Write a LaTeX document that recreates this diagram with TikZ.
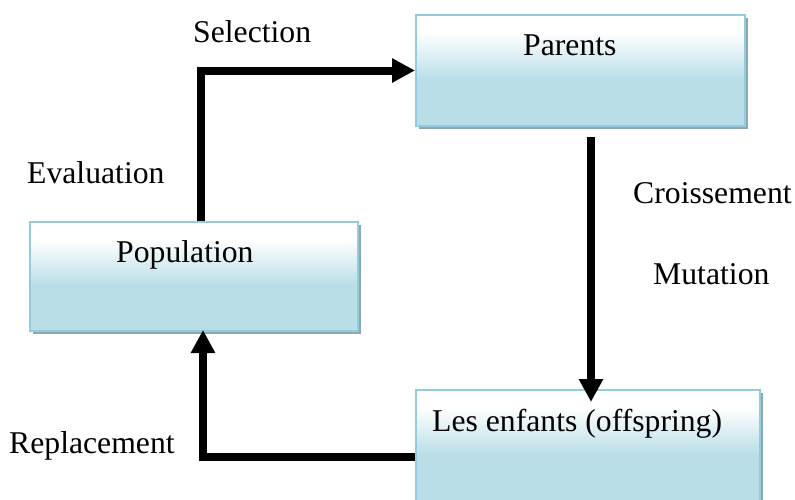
\documentclass[tikz,border=0pt]{standalone}
\usepackage{fontspec}
\setmainfont{Liberation Serif}
\usetikzlibrary{arrows.meta,calc,shadows}
\definecolor{boxblue}{HTML}{B9DEE8}
\definecolor{boxedge}{HTML}{93CDDD}
\definecolor{shadowgray}{HTML}{8EA9AD}
\pgfdeclareverticalshading{boxshade}{100bp}{color(0bp)=(boxblue); color(25bp)=(boxblue); color(46bp)=(boxblue); color(67bp)=(white); color(100bp)=(white)}
\tikzset{
  box/.style={rectangle, draw=boxedge, line width=2pt, shading=boxshade, inner sep=0pt,
    drop shadow={shadow xshift=3pt, shadow yshift=-3pt, fill=shadowgray, opacity=1}},
  txt/.style={font=\fontsize{31.7}{38}\selectfont, inner sep=0pt, anchor=base west},
  arr/.style={line width=8pt, line join=miter, -{Triangle[length=23pt,width=23pt]}}
}
\begin{document}
\begin{tikzpicture}[x=1pt,y=-1pt]
\useasboundingbox (0,0) rectangle (795,499);
\node[box, minimum width=329pt, minimum height=111pt] (par) at (580.5,70.5) {};
\node[box, minimum width=328pt, minimum height=109pt] (pop) at (194,276.5) {};
\node[box, minimum width=344pt, minimum height=111pt] (enf) at (588,445.5) {};
\node[txt] (partxt) at (523,55) {Parents};
\node[txt] (poptxt) at (116,262) {Population};
\node[txt] (enftxt) at (432,431) {Les enfants (offspring)};
\node[txt] (sel) at (193,42) {Selection};
\node[txt] (eva) at (27,183) {Evaluation};
\node[txt] (cro) at (633,203) {Croissement};
\node[txt] (mut) at (653,284) {Mutation};
\node[txt] (rep) at (9,453) {Replacement};
\draw[arr] (pop.north -| 201,0) |- (par.west);
\draw[arr] ($(par.south -| 591,0)+(0,10)$) -- ($(enf.north -| 591,0)+(0,13)$);
\draw[arr, shorten >=-2pt] ($(enf.west)+(0,11.5)$) -| (pop.south -| 203,0);
\end{tikzpicture}
\end{document}
